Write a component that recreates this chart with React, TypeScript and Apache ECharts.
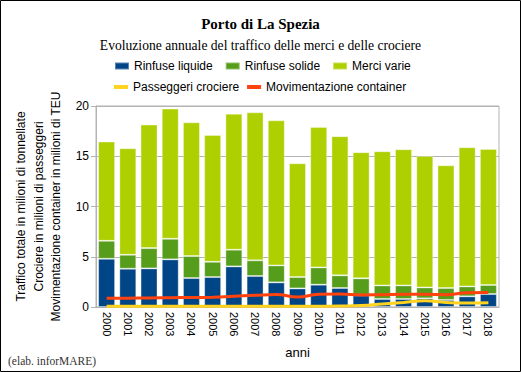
import React, { useEffect, useRef } from "react";
import * as echarts from "echarts";

const years = ["2000","2001","2002","2003","2004","2005","2006","2007","2008","2009","2010","2011","2012","2013","2014","2015","2016","2017","2018"];
const rinfuseLiquide = [4.80, 3.81, 3.84, 4.74, 2.88, 2.98, 4.04, 3.08, 2.45, 1.85, 2.22, 1.89, 1.15, 0.80, 0.80, 0.86, 0.70, 1.06, 1.29];
const rinfuseSolide = [1.79, 1.39, 2.02, 2.05, 2.19, 1.52, 1.66, 1.56, 1.69, 1.13, 1.72, 1.26, 1.70, 1.35, 1.35, 1.09, 1.19, 0.99, 0.90];
const merciVarie = [9.87, 10.60, 12.29, 12.95, 13.31, 12.62, 13.54, 14.73, 14.44, 11.32, 13.96, 13.85, 12.55, 13.35, 13.55, 13.08, 12.21, 13.85, 13.54];
const passeggeriCrociere = [0.07, 0.07, 0.07, 0.07, 0.07, 0.07, 0.07, 0.07, 0.07, 0.07, 0.08, 0.10, 0.15, 0.30, 0.45, 0.62, 0.45, 0.40, 0.43];
const movimentazioneContainer = [0.86, 0.88, 0.90, 0.93, 0.95, 0.96, 1.06, 1.17, 1.24, 1.00, 1.26, 1.29, 1.20, 1.23, 1.26, 1.26, 1.23, 1.42, 1.44];
const yTicks = { min: 0, max: 20, interval: 5 };

export default function App() {
  const ref = useRef<HTMLDivElement>(null);
  useEffect(() => {
    document.body.style.margin = "0";
    const chart = echarts.init(ref.current!, undefined, { renderer: "svg" });
    const sans = "Liberation Sans, Arial, sans-serif";
    const serif = "Liberation Serif, Times New Roman, serif";
    chart.setOption({
      animation: false,
      backgroundColor: "#ffffff",
      title: [
        {
          text: "Porto di La Spezia",
          left: "center",
          top: 11,
          textStyle: { fontFamily: serif, fontSize: 15, fontWeight: "bold", color: "#000" },
        },
        {
          text: "Evoluzione annuale del traffico delle merci e delle crociere",
          left: "center",
          top: 33,
          textStyle: { fontFamily: serif, fontSize: 13.6, fontWeight: "normal", color: "#000" },
        },
      ],
      legend: [
        {
          data: ["Rinfuse liquide", "Rinfuse solide", "Merci varie"],
          left: 109,
          top: 55,
          itemWidth: 14,
          itemHeight: 7,
          itemGap: 12,
          icon: "rect",
          textStyle: { fontFamily: sans, fontSize: 12, color: "#000" },
        },
        {
          data: ["Passeggeri crociere", "Movimentazione container"],
          left: 109,
          top: 76,
          itemWidth: 14,
          itemHeight: 4,
          itemGap: 8,
          icon: "rect",
          textStyle: { fontFamily: sans, fontSize: 12, color: "#000" },
        },
      ],
      grid: {
        left: 96,
        right: 22,
        top: 106,
        bottom: 65,
        show: true,
        borderColor: "#b3b3b3",
        borderWidth: 1,
        backgroundColor: "transparent",
      },
      xAxis: {
        type: "category",
        data: years,
        name: "anni",
        nameLocation: "middle",
        nameGap: 39,
        nameTextStyle: { fontFamily: sans, fontSize: 13, color: "#000" },
        axisLine: { lineStyle: { color: "#b3b3b3" } },
        axisTick: { length: 5, lineStyle: { color: "#b3b3b3" } },
        axisLabel: { rotate: -90, fontFamily: sans, fontSize: 11, color: "#000", margin: 5, interval: 0 },
      },
      yAxis: {
        type: "value",
        min: yTicks.min,
        max: yTicks.max,
        interval: yTicks.interval,
        name: "Traffico totale in milioni di tonnellate\nCrociere in milioni di passeggeri\nMovimentazione container in milioni di TEU",
        nameLocation: "middle",
        nameRotate: 90,
        nameGap: 31,
        nameTextStyle: { fontFamily: sans, fontSize: 12, color: "#000", lineHeight: 17.5, align: "center" },
        axisLine: { show: true, lineStyle: { color: "#b3b3b3" } },
        axisTick: { show: true, length: 5, lineStyle: { color: "#b3b3b3" } },
        axisLabel: { fontFamily: sans, fontSize: 12, color: "#000", margin: 7 },
        splitLine: { lineStyle: { color: "#b3b3b3" } },
      },
      series: [
        {
          name: "Rinfuse liquide",
          type: "bar",
          stack: "tot",
          data: rinfuseLiquide,
          barCategoryGap: "20%",
          itemStyle: { color: "#004586", borderColor: "rgba(255,255,255,0.35)", borderWidth: 1 },
        },
        {
          name: "Rinfuse solide",
          type: "bar",
          stack: "tot",
          data: rinfuseSolide,
          itemStyle: { color: "#579d1c", borderColor: "rgba(255,255,255,0.35)", borderWidth: 1 },
        },
        {
          name: "Merci varie",
          type: "bar",
          stack: "tot",
          data: merciVarie,
          itemStyle: { color: "#aecf00", borderColor: "rgba(255,255,255,0.35)", borderWidth: 1 },
        },
        {
          name: "Passeggeri crociere",
          type: "line",
          data: passeggeriCrociere,
          smooth: true,
          symbol: "none",
          lineStyle: { color: "#ffd320", width: 3 },
          itemStyle: { color: "#ffd320" },
        },
        {
          name: "Movimentazione container",
          type: "line",
          data: movimentazioneContainer,
          smooth: true,
          symbol: "none",
          lineStyle: { color: "#ff420e", width: 3 },
          itemStyle: { color: "#ff420e" },
        },
      ],
      graphic: [
        {
          type: "rect",
          shape: { x: 0.5, y: 0.5, width: 520, height: 371 },
          style: { fill: "none", stroke: "#000", lineWidth: 1 },
          silent: true,
        },
        {
          type: "text",
          left: 8,
          top: 355,
          style: { text: "(elab. inforMARE)", font: "11.5px " + serif, fill: "#333" },
        },
      ],
    });
    return () => chart.dispose();
  }, []);
  return <div ref={ref} style={{ width: 521, height: 372 }} />;
}
